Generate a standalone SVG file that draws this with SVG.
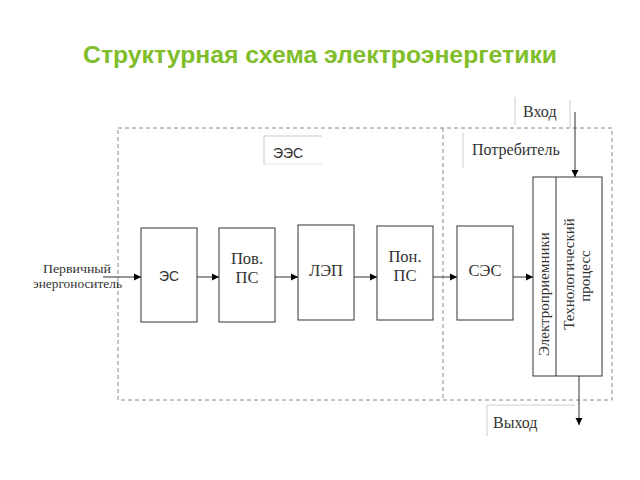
<svg xmlns="http://www.w3.org/2000/svg" width="640" height="480" viewBox="0 0 640 480">
<defs>
<marker id="arr" markerWidth="8" markerHeight="8" refX="7" refY="4" orient="auto" markerUnits="userSpaceOnUse">
<path d="M0,0.5 L7,4 L0,7.5 Z" fill="#000"/>
</marker>
<style>
.box{fill:#fff;stroke:#333;stroke-width:1}
.dash{fill:none;stroke:#888;stroke-width:1;stroke-dasharray:4,3}
.lbl{font-family:"Liberation Serif",serif;font-size:16.5px;fill:#333;text-anchor:middle}
.rot{font-family:"Liberation Serif",serif;font-size:15px;fill:#333;text-anchor:middle}
.sans{font-family:"Liberation Sans",sans-serif;font-size:14px;fill:#333;text-anchor:middle}
.sm{font-family:"Liberation Serif",serif;font-size:16px;fill:#333}
.pri{font-family:"Liberation Serif",serif;font-size:12px;fill:#333;text-anchor:middle}
.con{stroke:#333;stroke-width:1;fill:none;marker-end:url(#arr)}
.lb{stroke:#ccc;stroke-width:1;fill:none}
</style>
</defs>
<rect width="640" height="480" fill="#fff"/>
<text x="83" y="63" font-family="Liberation Sans,Arial,sans-serif" font-size="23" font-weight="bold" fill="#80bd2a" textLength="474" lengthAdjust="spacingAndGlyphs">Структурная схема электроэнергетики</text>

<g id="frames">
<rect class="dash" x="118" y="128" width="494" height="272"/>
<line class="dash" x1="443" y1="128" x2="443" y2="400"/>
</g>

<g id="ees-label">
<path class="lb" d="M264,165 V136 H322"/>
<line x1="264" y1="164" x2="322" y2="164" stroke="#e5e5e5"/>
<text class="sans" x="288" y="158" font-size="13">ЭЭС</text>
</g>
<g id="consumer-label">
<line class="lb" x1="463" y1="133" x2="463" y2="168"/>
<text class="sm" x="472" y="155">Потребитель</text>
</g>
<g id="input-label">
<line class="lb" x1="515" y1="97" x2="515" y2="125"/>
<line class="lb" x1="570" y1="100" x2="570" y2="128"/>
<text class="sm" x="523" y="117">Вход</text>
</g>
<g id="output-label">
<line class="lb" x1="487" y1="405" x2="487" y2="436"/>
<line class="lb" x1="487" y1="405" x2="575" y2="405"/>
<text class="sm" x="493" y="428">Выход</text>
</g>
<g id="primary">
<text class="pri" x="77" y="273" textLength="68" lengthAdjust="spacingAndGlyphs">Первичный</text>
<text class="pri" x="77.5" y="288" textLength="89" lengthAdjust="spacingAndGlyphs">энергоноситель</text>
</g>

<g id="es"><rect class="box" x="141" y="228" width="56" height="94"/><text class="sans" x="169" y="281" font-size="15">ЭС</text></g>
<g id="pov-ps"><rect class="box" x="219" y="228" width="56" height="94"/><text class="lbl" x="247" y="264">Пов.</text><text class="lbl" x="247" y="283">ПС</text></g>
<g id="lep"><rect class="box" x="298" y="225" width="56" height="95"/><text class="lbl" x="326" y="276">ЛЭП</text></g>
<g id="pon-ps"><rect class="box" x="377" y="226" width="56" height="94"/><text class="lbl" x="405" y="262">Пон.</text><text class="lbl" x="405" y="281">ПС</text></g>
<g id="ses"><rect class="box" x="457" y="226" width="56" height="94"/><text class="lbl" x="485" y="276">СЭС</text></g>
<g id="consumer-block">
<rect class="box" x="533" y="177" width="69" height="199"/>
<line x1="556" y1="177" x2="556" y2="376" stroke="#333"/>
<text class="rot" transform="translate(549,294) rotate(-90)">Электроприемники</text>
<text class="rot" transform="translate(574,274) rotate(-90)">Технологический</text>
<text class="rot" transform="translate(590,276) rotate(-90)">процесс</text>
</g>

<g id="connectors">
<line class="con" x1="103" y1="277" x2="141" y2="277"/>
<line class="con" x1="197" y1="277" x2="219" y2="277"/>
<line class="con" x1="275" y1="277" x2="298" y2="277"/>
<line class="con" x1="354" y1="277" x2="377" y2="277"/>
<line class="con" x1="433" y1="277" x2="457" y2="277"/>
<line class="con" x1="513" y1="277" x2="533" y2="277"/>
<line class="con" x1="575" y1="112" x2="575" y2="177"/>
<line class="con" x1="579" y1="376" x2="579" y2="425"/>
</g>
</svg>
